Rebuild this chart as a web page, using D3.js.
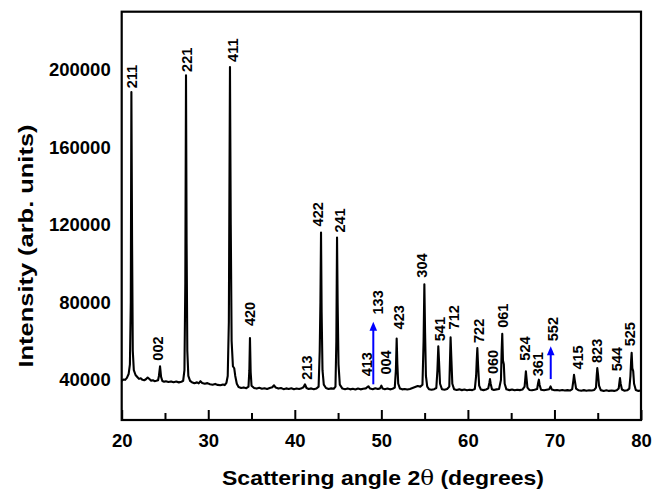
<!DOCTYPE html>
<html><head><meta charset="utf-8">
<script src="https://cdn.jsdelivr.net/npm/d3@7/dist/d3.min.js"></script>
<style>body{margin:0;background:#fff}svg{display:block}</style>
</head><body><svg id="c" width="664" height="492"></svg>
<script>
// ---- data ----
const xTicks = [20, 30, 40, 50, 60, 70, 80];
const xMinorTicks = [25, 35, 45, 55, 65, 75];
const yTicks = [40000, 80000, 120000, 160000, 200000];

const angle = [
20.0,20.2,20.4,20.6,20.8,20.95,21.05,21.12,21.2,21.28,21.4,21.6,21.8,22.0,22.2,22.4,22.6,22.8,23.0,23.2,23.4,23.6,23.8,24.0,24.2,24.3,24.43,24.55,24.7,24.9,25.1,25.4,25.7,26.0,26.3,26.6,26.9,27.1,27.25,27.35,27.43,27.5,27.58,27.7,27.9,28.1,28.4,28.7,28.9,29.1,29.3,29.6,29.9,30.2,30.5,30.8,31.1,31.4,31.7,31.9,32.1,32.25,32.38,32.51,32.6,32.7,32.85,33.0,33.12,33.3,33.5,33.8,34.1,34.4,34.65,34.75,34.82,34.9,35.0,35.3,
35.6,35.9,36.2,36.5,36.8,37.1,37.4,37.6,37.8,38.1,38.4,38.7,39.0,39.3,39.6,39.9,40.2,40.5,40.8,41.0,41.18,41.35,41.6,41.9,42.2,42.5,42.75,42.88,42.96,43.03,43.1,43.2,43.35,43.6,43.9,44.2,44.5,44.7,44.8,44.88,44.95,45.05,45.2,45.5,45.8,46.1,46.4,46.7,47.0,47.3,47.6,47.9,48.2,48.5,48.7,49.0,49.3,49.6,49.85,50.0,50.15,50.4,50.7,51.0,51.3,51.55,51.68,51.77,51.85,51.95,52.15,52.4,52.7,53.0,53.3,53.6,53.9,54.2,54.5,54.75,54.88,54.97,55.05,55.15,55.3,55.5,55.8,56.1,56.35,56.48,56.58,56.66,56.78,57.0,57.3,57.6,57.85,57.93,58.0,58.08,58.2,58.4,
58.7,59.0,59.3,59.6,59.9,60.2,60.5,60.8,60.95,61.02,61.09,61.17,61.3,61.5,61.8,62.1,62.35,62.48,62.55,62.63,62.78,63.0,63.3,63.6,63.82,63.9,63.97,64.05,64.15,64.25,64.45,64.8,65.1,65.4,65.7,66.0,66.3,66.55,66.63,66.7,66.77,66.88,67.1,67.4,67.7,68.0,68.12,68.2,68.28,68.45,68.8,69.1,69.4,69.55,69.7,70.0,70.3,70.6,70.9,71.2,71.5,71.8,72.05,72.18,72.26,72.34,72.5,72.8,73.1,73.4,73.7,74.0,74.3,74.6,74.8,74.88,74.95,75.03,75.15,75.35,75.7,76.0,76.3,76.6,76.9,77.2,77.42,77.5,77.57,77.65,77.8,78.1,78.4,78.65,78.78,78.86,78.92,79.0,79.1,79.2,79.4,79.7,80.0
];
const intensity = [
39500,40200,40000,41000,43000,48000,80000,188400,110000,55000,45000,42500,41500,40500,40800,40000,39800,40300,41200,40400,39600,39800,39300,39500,39800,42000,47000,41500,39400,39000,39300,38900,39200,38800,39100,38700,39000,39500,45000,90000,197000,110000,55000,42000,39500,38800,38300,38700,38200,39300,38400,38000,38300,37700,37500,37900,37400,37200,37600,37300,38500,42000,70000,201300,120000,60000,47000,46000,42000,38000,36300,35800,36100,35700,36500,45000,61600,44000,37000,35800,
35500,35900,35400,35700,35300,35800,36200,37200,36000,35500,35800,35200,35600,35300,35700,35200,35500,35300,35700,36200,37700,35800,35300,35600,35200,35500,36500,55000,80000,116000,75000,45000,37500,35800,35300,35600,35400,36500,60000,113400,80000,48000,37500,35500,35200,35600,35100,35400,35000,35500,35100,35400,35600,36700,35500,35200,35700,35300,35600,37000,35500,35200,35500,35100,35400,36000,45000,61300,48000,38000,35500,35100,35300,35000,35300,35800,36300,36800,36500,37500,60000,89250,65000,42000,36500,35200,34900,35200,35800,45000,57300,50000,38000,35200,34900,35300,36500,50000,62000,52000,38000,35200,
34800,35100,34700,35000,34600,34900,34700,35300,42000,50000,56400,48000,37000,35000,34700,35000,35600,38500,40400,38000,35200,34800,35100,35300,40000,55000,63700,50000,48000,38000,35100,34700,35000,34600,34900,34700,35000,36500,40500,44400,41000,36000,34800,34600,34900,35300,38500,40100,37500,34900,34600,34900,35200,36600,35000,34600,34800,34500,34800,34500,34700,34500,35200,39500,42600,40000,35500,34600,34400,34700,34400,34600,34500,34800,36000,42000,46100,43000,37000,34700,34300,34600,34300,34500,34300,34600,35500,38500,40900,38000,35000,34400,34600,35500,42000,50000,53900,46000,44500,38000,34800,34300,34500
];

const hklLabels = ["211","221","411","002","420","213","422","241","413","004","133","423","304","541","712","722","060","061","524","361","552","415","823","544","525"];
const hklAngle  = [21.16,27.51,32.89,24.23,34.82,41.37,42.72,45.22,48.31,50.54,49.58,52.07,54.66,56.78,58.39,61.32,62.93,64.09,66.60,68.13,69.80,72.76,74.95,77.26,78.73];
const hklLevel  = [190300,198750,203900,49900,67700,40100,119100,115960,41800,42700,73700,66000,92700,59900,66000,59000,43000,66800,49900,41800,59900,45300,48700,44400,57300];

const arrowAngle = [49.07, 69.57];
const arrowFrom  = [37700, 40400];
const arrowTo    = [69900, 57300];

// ---- chart ----
const svg = d3.select("#c");
const L = 121.7, R = 641, T = 11.7, B = 420;
const x = d3.scaleLinear().domain([20, 80]).range([L, R]);
const y = d3.scaleLinear().domain([19300, 229800]).range([B, T]);

svg.append("rect").attr("width",664).attr("height",492).attr("fill","#fff");

// trace
const pts = angle.map((a,i)=>[a,intensity[i]]);
svg.append("path").datum(pts)
  .attr("d", d3.line().x(d=>x(d[0])).y(d=>y(d[1])))
  .attr("fill","none").attr("stroke","#000").attr("stroke-width",2.1)
  .attr("stroke-linejoin","round");

// frame
svg.append("rect").attr("x",L).attr("y",T).attr("width",R-L).attr("height",B-T)
  .attr("fill","none").attr("stroke","#000").attr("stroke-width",2.2);

// x axis
const xa = svg.append("g").attr("transform",`translate(0,${B})`)
  .call(d3.axisBottom(x).tickValues(xTicks).tickSize(-10).tickPadding(14).tickFormat(d3.format("d")));
xa.select(".domain").remove();
xa.selectAll("line").attr("stroke-width",2);
xa.selectAll("text").attr("font-family","'Liberation Sans',Arial,sans-serif").attr("font-weight","bold").attr("font-size",18.5).attr("fill","#000");
const xm = svg.append("g").attr("transform",`translate(0,${B})`)
  .call(d3.axisBottom(x).tickValues(xMinorTicks).tickSize(-7).tickFormat(""));
xm.select(".domain").remove();
xm.selectAll("line").attr("stroke-width",2);

// y axis
const ya = svg.append("g").attr("transform",`translate(${L},0)`)
  .call(d3.axisLeft(y).tickValues(yTicks).tickSize(0).tickPadding(11).tickFormat(d3.format("d")));
ya.select(".domain").remove();
ya.selectAll("text").attr("font-family","'Liberation Sans',Arial,sans-serif").attr("font-weight","bold").attr("font-size",18.5).attr("fill","#000");

// titles
svg.append("text").attr("x",383).attr("y",485).attr("text-anchor","middle")
  .attr("font-family","'Liberation Sans',Arial,sans-serif").attr("font-weight","bold").attr("font-size",20.5)
  .attr("textLength",322).attr("lengthAdjust","spacingAndGlyphs")
  .html('Scattering angle 2<tspan font-family="\'DejaVu Serif\',serif" font-weight="normal">θ</tspan> (degrees)');
svg.append("text").attr("transform","translate(33,246) rotate(-90)").attr("text-anchor","middle")
  .attr("font-family","'Liberation Sans',Arial,sans-serif").attr("font-weight","bold").attr("font-size",21)
  .attr("textLength",243).attr("lengthAdjust","spacingAndGlyphs")
  .text("Intensity (arb. units)");

// hkl labels
svg.append("g").selectAll("text").data(hklLabels).join("text")
  .attr("transform",(d,i)=>`translate(${x(hklAngle[i])},${y(hklLevel[i])}) rotate(-90)`)
  .attr("dy","0.35em")
  .attr("font-family","'Liberation Sans',Arial,sans-serif").attr("font-weight","bold").attr("font-size",14.5)
  .attr("fill","#000").text(d=>d);

// arrows
const ag = svg.append("g");
arrowAngle.forEach((a,i)=>{
  const ax = x(a), y0 = y(arrowFrom[i]), y1 = y(arrowTo[i]);
  ag.append("line").attr("x1",ax).attr("x2",ax).attr("y1",y0).attr("y2",y1+7)
    .attr("stroke","#0000ff").attr("stroke-width",2);
  ag.append("path").attr("d",`M${ax},${y1}L${ax-3.8},${y1+9}L${ax+3.8},${y1+9}Z`).attr("fill","#0000ff");
});
</script>
</body></html>
